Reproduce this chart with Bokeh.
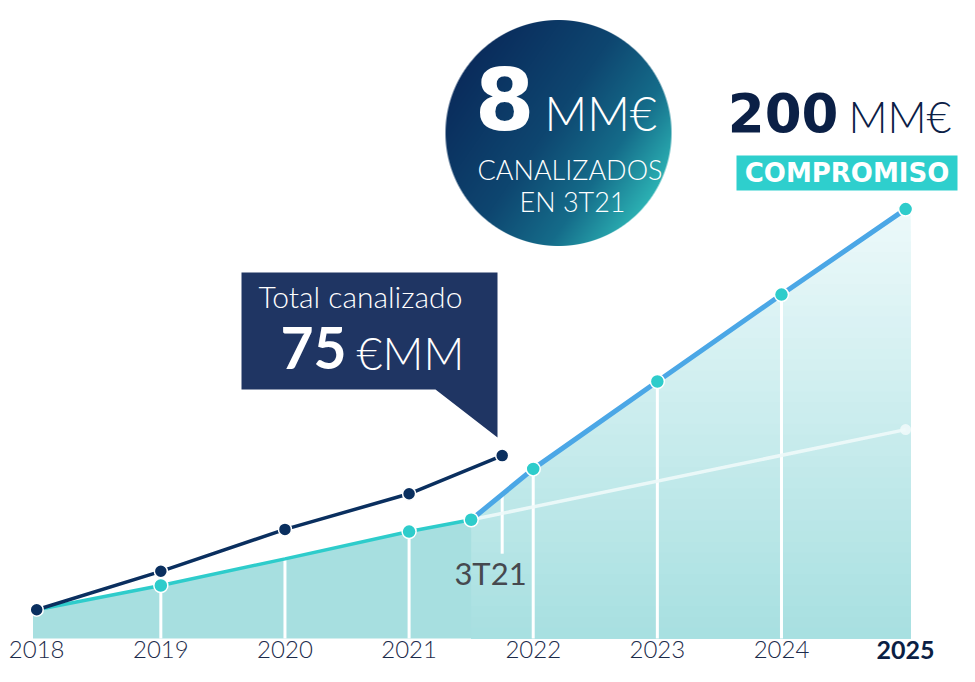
import numpy as np
from bokeh.plotting import figure
from bokeh.models import Range1d, Label
from bokeh.core.properties import value
from bokeh.embed import file_html
from bokeh.resources import INLINE

# ---------------- data ----------------
years = [2018, 2019, 2020, 2021, 2022, 2023, 2024, 2025]
year_labels = ["2018", "2019", "2020", "2021", "2022", "2023", "2024", "2025"]

# Total canalizado (navy line), MM€
total_x = [2018, 2019, 2020, 2021, 2021.75]
total_v = [13.4, 31.3, 50.8, 67.4, 85.2]

# base path (teal line) up to 3T21
base_x = [2018, 2019, 2020, 2021, 2021.5]
base_v = [13.4, 24.7, 37.1, 49.8, 55.3]
base_dot = [False, True, False, True, True]

# commitment path (blue line) to 2025
goal_x = [2021.5, 2022, 2023, 2024, 2025]
goal_v = [55.3, 79.0, 119.7, 160.2, 200.0]

# previous trend (faint white line)
trend_x = [2021.5, 2025]
trend_v = [55.3, 97.3]

q3_x = 2021.75
q3_label = "3T21"

# ---------------- layout helpers ----------------
W, H = 959, 666
PX_YEAR = 124.13          # pixels per year
PX_UNIT = 2.147           # pixels per MM€
x_start = 2018 - 36.2 / PX_YEAR
x_end = x_start + W / PX_YEAR
y_bottom = (638 - H) / PX_UNIT
y_top = 638 / PX_UNIT


def X(rx):
    return 2018 + (rx - 36.2) / PX_YEAR


def Y(ry):
    return (638 - ry) / PX_UNIT


p = figure(width=W, height=H, output_backend="svg", toolbar_location=None,
           x_range=Range1d(x_start, x_end), y_range=Range1d(y_bottom, y_top),
           min_border=0, x_axis_location=None, y_axis_location=None)
p.grid.visible = False
p.outline_line_color = None
p.background_fill_color = "white"
p.border_fill_color = "white"

LATO = "Lato"
LIGHT = "Lato Light"
WIDE = "DejaVu Sans"
MID = 0.37  # baseline offset of a 'middle'-anchored text, in em


def label(rx, base_ry, text, size, font=LATO, bold=False, color="white", align="left"):
    p.add_layout(Label(x=X(rx), y=Y(base_ry - MID * size), text=text, text_font=font,
                       text_font_size=f"{size}px",
                       text_font_style="bold" if bold else "normal",
                       text_color=color, text_align=align, text_baseline="middle"))


# ---------------- area ----------------
top_x = base_x[:-1] + goal_x
top_v = base_v[:-1] + goal_v
top_x_ext = [top_x[0] - 0.03] + top_x + [top_x[-1] + 0.04]
top_v_ext = [top_v[0]] + top_v + [top_v[-1]]

teal = np.array([0xA6, 0xDF, 0xE0], dtype=float)
light = np.array([0xEC, 0xF9, 0xFA], dtype=float)


def mix(t):
    c = teal + (light - teal) * t
    return "#%02x%02x%02x" % tuple(int(round(v)) for v in c)


xr = np.linspace(base_x[-1], top_x_ext[-1], 700)
tr = np.interp(xr, top_x_ext, top_v_ext)
levels = np.linspace(max(goal_v), 0, 41)[:-1]
for L in levels:
    p.varea(x=xr, y1=np.zeros_like(xr), y2=np.minimum(tr, L),
            fill_color=mix(L / max(goal_v)))

xl = np.linspace(top_x_ext[0], base_x[-1], 300)
tl = np.interp(xl, top_x_ext, top_v_ext)
p.varea(x=xl, y1=np.zeros_like(xl), y2=tl, fill_color="#a7dfe0")

# white vertical year lines inside the area
vx = years[1:-1]
vtop = np.interp(vx, top_x, top_v)
p.segment(x0=vx, y0=[0] * len(vx), x1=vx, y1=vtop, line_color="white", line_width=3)

# 3T21 marker line
p.segment(x0=[q3_x], y0=[39.5], x1=[q3_x], y1=[float(np.interp(q3_x, top_x, top_v))],
          line_color="white", line_width=3)

# faint trend line
p.line(trend_x, trend_v, line_color="#eef9fa", line_width=3.5, line_alpha=0.9)
p.scatter([trend_x[-1]], [trend_v[-1]], size=11, fill_color="#eef9fa",
          line_color=None, fill_alpha=0.9)

# ---------------- lines ----------------
p.line(base_x, base_v, line_color="#2ecccb", line_width=3.5)
p.line(goal_x, goal_v, line_color="#4ba7e6", line_width=5)
p.line(total_x, total_v, line_color="#0a2f5f", line_width=3.5)

dx = [x for x, d in zip(base_x, base_dot) if d] + goal_x[1:]
dv = [v for v, d in zip(base_v, base_dot) if d] + goal_v[1:]
p.scatter(dx, dv, size=14, fill_color="#2ecccb", line_color="white", line_width=1.5)
p.scatter(total_x, total_v, size=13, fill_color="#0a2f5f", line_color="white", line_width=1.5)

# ---------------- year labels ----------------
YL_SIZE = 24
ylab_y = [Y(658 - MID * YL_SIZE)] * len(years)
p.text(x=years[:-1], y=ylab_y[:-1], text=year_labels[:-1], text_font=value(LIGHT),
       text_font_size=f"{YL_SIZE}px", text_color="#1c2b4b", text_align="center",
       text_baseline="middle")
p.text(x=years[-1:], y=ylab_y[-1:], text=year_labels[-1:], text_font=value(LATO),
       text_font_size=f"{YL_SIZE + 1}px", text_font_style="bold", text_color="#0b1f44",
       text_align="center", text_baseline="middle")

label(490, 584, q3_label, 31, font=LATO, color="#46494f", align="center")

# ---------------- callout box ----------------
bx = [X(241), X(497), X(497), X(435), X(241)]
by = [Y(272), Y(272), Y(437), Y(389), Y(389)]
p.patch(bx, by, fill_color="#1f3563", line_color=None)
label(360, 307, "Total canalizado", 30, font=LIGHT, align="center")
label(346, 369, "75", 57, font=LATO, bold=True, align="right")
label(356, 369, "€MM", 45, font=LIGHT, align="left")

# ---------------- gradient circle ----------------
ccx, ccy, cr = 558.0, 132.5, 113.0
n = 230
half = n / 2.0
jj, ii = np.meshgrid(np.arange(n) + 0.5, np.arange(n) + 0.5)
dxp = jj - half
dyp = ii - half
dist = np.sqrt(dxp ** 2 + dyp ** 2)
alpha = np.clip(cr - dist + 0.5, 0, 1)
ang = np.deg2rad(35)
t = np.clip(((dxp * np.cos(ang) + dyp * np.sin(ang)) / cr + 1) / 2, 0, 1)
stops_t = [0.0, 0.45, 0.75, 1.0]
stops_c = np.array([[0x0a, 0x2c, 0x5c], [0x0e, 0x46, 0x70], [0x15, 0x6c, 0x8a], [0x2c, 0xb2, 0xb4]], float)
rgb = np.stack([np.interp(t, stops_t, stops_c[:, k]) for k in range(3)], axis=-1)
img = np.zeros((n, n), dtype=np.uint32)
view = img.view(dtype=np.uint8).reshape((n, n, 4))
view[:, :, 0] = rgb[:, :, 0].astype(np.uint8)
view[:, :, 1] = rgb[:, :, 1].astype(np.uint8)
view[:, :, 2] = rgb[:, :, 2].astype(np.uint8)
view[:, :, 3] = (alpha * 255).astype(np.uint8)
img = np.flipud(img)
p.image_rgba(image=[img], x=X(ccx - half), y=Y(ccy + half), dw=n / PX_YEAR, dh=n / PX_UNIT)

label(534, 129.5, "8", 86, font=WIDE, bold=True, align="right")
label(544, 129.5, "MM€", 47, font=LIGHT, align="left")
label(569.5, 178.5, "CANALIZADOS", 27, font=LIGHT, align="center")
label(572, 210.5, "EN 3T21", 27, font=LIGHT, align="center")

# ---------------- commitment ----------------
label(838, 132, "200", 53, font=WIDE, bold=True, color="#0b2046", align="right")
label(848, 132, "MM€", 43, font=LIGHT, color="#0b2046", align="left")
p.quad(left=[X(736)], right=[X(957)], top=[Y(155)], bottom=[Y(190)],
       fill_color="#2ecfcd", line_color=None)
label(846.5, 182, "COMPROMISO", 26, font=WIDE, bold=True, align="center")

open("out.html", "w").write(file_html(p, INLINE))
